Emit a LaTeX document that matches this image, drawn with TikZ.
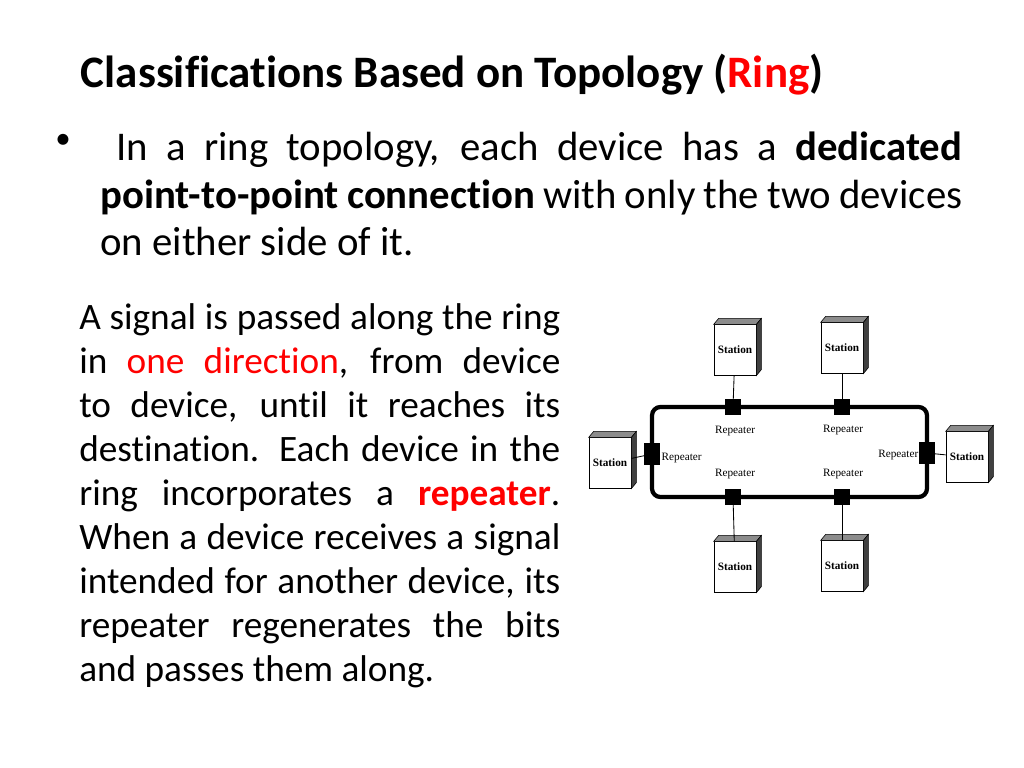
\documentclass[tikz,border=0pt]{standalone}
\usepackage{fontspec}
\setmainfont[Ligatures=NoCommon]{Carlito}
\newfontfamily\tnr{Liberation Serif}
\lefthyphenmin=62 \righthyphenmin=62 \hyphenpenalty=10000 \exhyphenpenalty=10000
\begin{document}
\begin{tikzpicture}[x=0.025cm,y=-0.025cm,
  station/.style={draw,fill=white,minimum width=30,minimum height=36,inner sep=0pt,font=\tnr\bfseries\fontsize{8}{9}\selectfont},
  rep/.style={fill=black,minimum size=11,inner sep=0pt},
  rlab/.style={font=\tnr\fontsize{8}{9}\selectfont,inner sep=1pt},
  ring/.style={line width=3pt,rounded corners=6},
  link/.style={line width=0.6pt}]
\useasboundingbox (0,0) rectangle (1024,768);
\node[anchor=west,font=\bfseries\fontsize{32}{36}\selectfont] (title) at (76,75) {Classifications Based on Topology (\textcolor{red}{Ring})};
\node[anchor=north west,font=\fontsize{22}{33.5}\selectfont,inner sep=0pt] (bul) at (55,134) {\textbullet};
\node[anchor=north west,text width=862*0.025cm,align=justify,font=\fontsize{29}{33.5}\selectfont,inner sep=0pt] (p1) at (100,132) {\lefthyphenmin=62 \hspace*{0.4em}In a ring topology, each device has a \textbf{dedicated point-to-point connection} with only the two devices on either side of it.};
\node[anchor=north west,text width=481*0.025cm,align=justify,font=\fontsize{26.5}{31.3}\selectfont,inner sep=0pt] (p2) at (79,303) {\lefthyphenmin=62 A signal is passed along the ring in \textcolor{red}{one direction}, from device to device, until it reaches its destination. Each device in the ring incorporates a \textcolor{red}{\textbf{repeater}}. When a device receives a signal intended for another device, its repeater regenerates the bits and passes them along.};
% ring
\draw[ring] (652,407) rectangle (927,497);
\node[rep] (rt1) at (733,407) {};
\node[rep] (rt2) at (842,407) {};
\node[rep] (rb1) at (733,497) {};
\node[rep] (rb2) at (842,497) {};
\node[rep,minimum height=16] (rl) at (652,454) {};
\node[rep,minimum height=16] (rr) at (927,453) {};
\node[rlab] at (735,431) {Repeater};
\node[rlab] at (843,430) {Repeater};
\node[rlab] at (735,474) {Repeater};
\node[rlab] at (843,474) {Repeater};
\node[rlab,anchor=west] at (660,458) {Repeater};
\node[rlab,anchor=east] at (920,455) {Repeater};
% stations
\foreach \n/\x/\y in {st1/735/350,st2/842/348,sb1/735/567,sb2/842/566,sl/610/463,sr/967/457}{
  \node[station] (\n) at (\x,\y) {Station};
  \draw[fill=black!45] (\n.north west) -- ++(5,-6) -- ([xshift=5*0.025cm,yshift=6*0.025cm]\n.north east) -- (\n.north east) -- cycle;
  \draw[fill=black!75] (\n.north east) -- ([xshift=5*0.025cm,yshift=6*0.025cm]\n.north east) -- ([xshift=5*0.025cm,yshift=6*0.025cm]\n.south east) -- (\n.south east) -- cycle;
}
\draw[link] (st1) -- (rt1);
\draw[link] (st2) -- (rt2);
\draw[link] (sb1) -- (rb1);
\draw[link] (sb2) -- (rb2);
\draw[link] (sl) -- (rl);
\draw[link] (sr) -- (rr);
\end{tikzpicture}
\end{document}
